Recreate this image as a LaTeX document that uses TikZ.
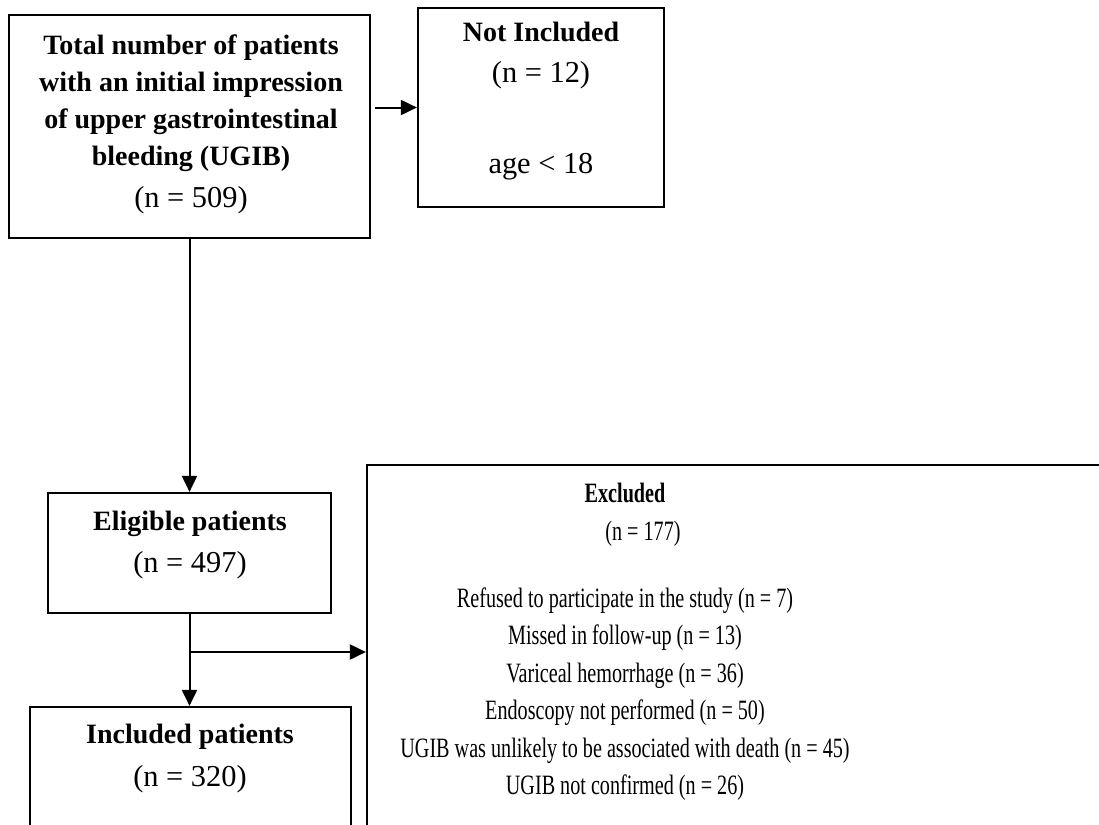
\documentclass[tikz,border=0pt]{standalone}
\usepackage{fontspec}
\setmainfont{Liberation Serif}
\newfontfamily\narrowserif[FakeStretch=0.72]{Liberation Serif}
\newcommand{\nline}[1]{{\fontsize{15.2}{18.5}\selectfont #1}}
\usetikzlibrary{arrows.meta,positioning}

\begin{document}
\begin{tikzpicture}[x=0.5pt,y=-0.5pt,
    frame/.style={draw, line width=1.1pt, inner sep=0pt},
    txt/.style={align=center, inner sep=0pt, anchor=north, font=\fontsize{14}{18.5}\selectfont},
    arr/.style={line width=1pt, -{Triangle[length=8pt,width=7.5pt]}}]
    \useasboundingbox (0,0) rectangle (1099,825);
    \clip (0,0) rectangle (1099,825);

    % Total patients
    \node[frame, minimum width=180.5pt, minimum height=111.5pt] (total) at (189.5,126.5) {};
    \node[txt] (totaltxt) at (191,34) {\textbf{Total number of patients}\\
        \textbf{with an initial impression}\\
        \textbf{of upper gastrointestinal}\\
        \textbf{bleeding (UGIB)}\\[2.5pt]
        \nline{(n = 509)}};

    % Not included
    \node[frame, minimum width=123pt, minimum height=99.5pt] (notinc) at (541,107.5) {};
    \node[txt] (notinctxt) at (541,22) {\textbf{Not Included}\\[2pt]
        \nline{(n = 12)}\\[27pt]
        \nline{age < 18}};

    % Eligible
    \node[frame, minimum width=141.5pt, minimum height=60pt] (elig) at (189.5,553) {};
    \node[txt] (eligtxt) at (190,511) {\textbf{Eligible patients}\\[2.5pt] \nline{(n = 497)}};

    % Included
    \node[frame, minimum width=160.5pt, minimum height=66.5pt] (incl) at (190.5,773.5) {};
    \node[txt] (incltxt) at (190,724) {\textbf{Included patients}\\[3pt] \nline{(n = 320)}};

    % Excluded
    \node[frame, minimum width=371.5pt, minimum height=187pt] (excl) at (738.5,652) {};
    \node[txt, font=\narrowserif\fontsize{14}{18.75}\selectfont] (excltxt) at (625,483) {\textbf{Excluded}\\
        \hspace*{18pt}(n = 177)\\[14.75pt]
        Refused to participate in the study (n = 7)\\
        Missed in follow-up (n = 13)\\
        Variceal hemorrhage (n = 36)\\
        Endoscopy not performed (n = 50)\\
        UGIB was unlikely to be associated with death (n = 45)\\
        UGIB not confirmed (n = 26)};

    % Arrows
    \path (total.east |- notinc.west) ++(4,0) coordinate (nstart);
    \draw[arr] (nstart) -- (notinc.west);
    \draw[arr] (total.south) -- (elig.north);
    \draw[arr] (elig.south) -- (elig.south |- incl.north);
    \coordinate (split) at (elig.south |- excl.west);
    \draw[arr] (split) -- (excl.west);
\end{tikzpicture}
\end{document}
